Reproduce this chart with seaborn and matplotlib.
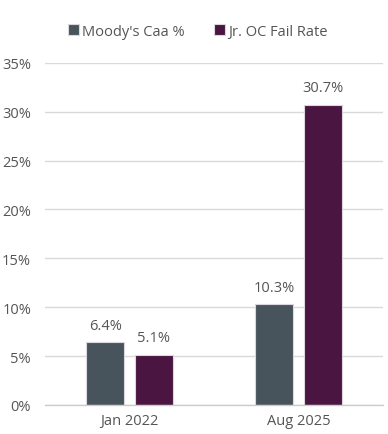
import pandas as pd
import seaborn as sns
import matplotlib.pyplot as plt

# values
periods = ['Jan 2022', 'Aug 2025']
series = ["Moody's Caa %", 'Jr. OC Fail Rate']
caa = [6.4, 10.3]
oc_fail = [5.1, 30.7]

df = pd.DataFrame({
    'period': periods * 2,
    'series': [series[0]] * 2 + [series[1]] * 2,
    'value': caa + oc_fail,
})

sns.set_style('white')
plt.rcParams['font.family'] = ['Open Sans', 'DejaVu Sans']
txt = '#555555'
fs = 10.5

fig = plt.figure(figsize=(3.88, 4.35), dpi=100)
ax = fig.add_axes([0.116, 0.067, 0.871, 0.786])

palette = {series[0]: '#48545c', series[1]: '#4a1541'}
sns.barplot(data=df, x='period', y='value', hue='series', order=periods,
            hue_order=series, palette=palette, width=0.57, gap=0.21,
            edgecolor='#dcd6de', linewidth=0.8, saturation=1, ax=ax)

for cont in ax.containers:
    ax.bar_label(cont, labels=[f'{v:.1f}%' for v in cont.datavalues],
                 padding=7, fontsize=fs, color=txt)

ax.set_ylim(0, 35)
ax.set_xlim(-0.5, 1.5)
ax.set_yticks(range(0, 36, 5))
ax.set_yticklabels([f'{t}%' for t in range(0, 36, 5)])
ax.yaxis.grid(True, color='#d9d9d9', linewidth=1)
ax.set_axisbelow(True)
ax.set_xlabel('')
ax.set_ylabel('')
for s in ['top', 'right', 'left']:
    ax.spines[s].set_visible(False)
ax.spines['bottom'].set_color('#cccccc')
ax.spines['bottom'].set_linewidth(1)
ax.tick_params(axis='y', length=0, pad=10, labelsize=fs, labelcolor=txt)
ax.tick_params(axis='x', which='major', length=0, pad=6, labelsize=fs, labelcolor=txt)
ax.set_xticks([-0.5, 0.5, 1.5], minor=True)
ax.tick_params(axis='x', which='minor', length=5, color='#cccccc', width=1)

handles, labels = ax.get_legend_handles_labels()
ax.legend(handles, labels, loc='center', bbox_to_anchor=(0.51, 0.926),
          bbox_transform=fig.transFigure, ncol=2, frameon=False,
          handlelength=0.75, handleheight=0.75, handletextpad=0.2,
          columnspacing=2.0, fontsize=fs, labelcolor=txt)

fig.savefig('out.png', dpi=100)
